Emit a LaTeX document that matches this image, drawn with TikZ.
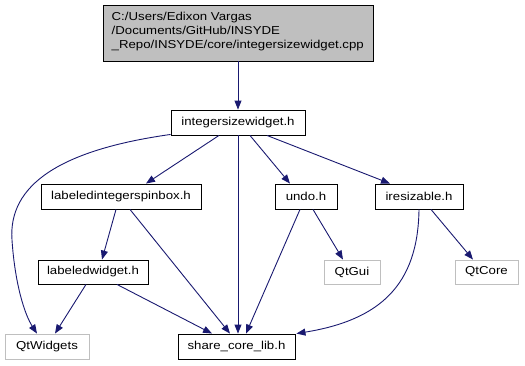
\documentclass[tikz,border=0pt]{standalone}
\usepackage{fontspec}
\setmainfont[FakeStretch=1.15]{Liberation Sans}
\usetikzlibrary{arrows.meta}
\definecolor{edgeblue}{HTML}{191970}
\definecolor{extgray}{HTML}{BFBFBF}
\definecolor{rootfill}{HTML}{BFBFBF}
\begin{document}
\begin{tikzpicture}[x=1pt,y=-1pt,
  every node/.style={font=\fontsize{11.5}{13.8}\selectfont, inner sep=0pt},
  filebox/.style={draw=black, line width=0.9pt, rectangle},
  extbox/.style={draw=extgray, line width=0.9pt, rectangle},
  dep/.style={draw=edgeblue, line width=0.9pt, -{Triangle[length=9pt,width=7pt]}}
]
\useasboundingbox (0,0) rectangle (525,365);

% root file
\node[filebox, fill=rootfill, minimum width=270pt, minimum height=56pt] (root) at (238,33) {};
\node[anchor=north west, align=left] (roottxt) at (111.5,12)
  {C:/Users/Edixon Vargas\\/Documents/GitHub/INSYDE\\\_Repo/INSYDE/core/integersizewidget.cpp};

% headers
\node[filebox, minimum width=134pt, minimum height=25pt] (isw)   at (238,122.5) {integersizewidget.h};
\node[filebox, minimum width=160pt, minimum height=25pt] (lisb)  at (121,196.5) {labeledintegerspinbox.h};
\node[filebox, minimum width=62pt,  minimum height=25pt] (undo)  at (306,196.5) {undo.h};
\node[filebox, minimum width=88pt,  minimum height=25pt] (ires)  at (419,196.5) {iresizable.h};
\node[filebox, minimum width=110pt, minimum height=24pt] (lw)    at (93,272)    {labeledwidget.h};
\node[extbox,  minimum width=56pt,  minimum height=24pt] (qtgui) at (352,272)   {QtGui};
\node[extbox,  minimum width=63pt,  minimum height=24pt] (qtcore) at (486.5,272) {QtCore};
\node[extbox,  minimum width=84pt,  minimum height=25pt] (qtw)   at (47,346.5)  {QtWidgets};
\node[filebox, minimum width=117pt, minimum height=25pt] (scl)   at (236.5,346.5) {share\_core\_lib.h};

% include edges
\draw[dep] (root.south -| isw.north) -- (isw.north);
\draw[dep] ([yshift=1pt]isw.south west) .. controls (60,150) and (8,185) .. (12,240)
           .. controls (15,285) and (25,315) .. ([xshift=-10pt]qtw.north);
\draw[dep] ([xshift=-19pt]isw.south) -- ([xshift=25pt]lisb.north);
\draw[dep] (isw.south) -- (isw.south |- scl.north);
\draw[dep] ([xshift=12pt]isw.south) -- ([xshift=-16pt]undo.north);
\draw[dep] ([xshift=29pt]isw.south) -- ([xshift=-29pt]ires.north);

\draw[dep] ([xshift=-5pt]lisb.south) -- ([xshift=9pt]lw.north);
\draw[dep] ([xshift=9pt]lisb.south) -- ([xshift=-6.5pt]scl.north);

\draw[dep] ([xshift=-6pt]undo.south) -- ([xshift=9.5pt]scl.north);
\draw[dep] ([xshift=7pt]undo.south) -- ([xshift=-9pt]qtgui.north);

\draw[dep] (ires.south) .. controls (418,285) and (380,320) .. ([xshift=1pt]scl.north east);
\draw[dep] ([xshift=12pt]ires.south) -- ([xshift=-13.5pt]qtcore.north);

\draw[dep] ([xshift=-7pt]lw.south) -- ([xshift=8pt]qtw.north);
\draw[dep] ([xshift=24pt]lw.south) -- ([xshift=-24.5pt]scl.north);
\end{tikzpicture}
\end{document}
